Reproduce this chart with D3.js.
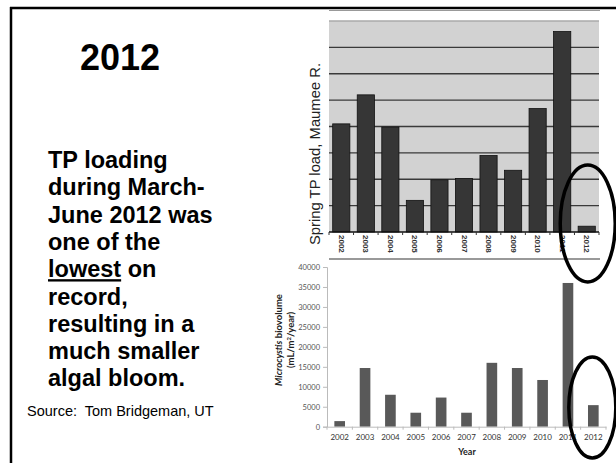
<!DOCTYPE html>
<html>
<head>
<meta charset="utf-8">
<script src="https://cdnjs.cloudflare.com/ajax/libs/d3/7.8.5/d3.min.js"></script>
<style>
  html, body { margin: 0; padding: 0; background: #fff; }
  svg { display: block; }
</style>
</head>
<body>
<div id="slide"></div>
<script>
// data
var years = ["2002", "2003", "2004", "2005", "2006", "2007", "2008", "2009", "2010", "2011", "2012"];
// spring TP load (chart has no tick labels, values in gridline units)
var tpLoad = [4.1, 5.2, 3.98, 1.2, 1.98, 2.03, 2.9, 2.34, 4.68, 7.6, 0.22];
var tpGrid = [1, 2, 3, 4, 5, 6, 7, 8];
// Microcystis biovolume (mL/m2/year)
var biovolume = [1400, 14700, 8000, 3500, 7300, 3500, 16000, 14700, 11700, 36000, 5400];
var bioTicks = [0, 5000, 10000, 15000, 20000, 25000, 30000, 35000, 40000];

var title = "2012";
var bodyLines = ["TP loading", "during March-", "June 2012 was", "one of the", "lowest| on", "record,", "resulting in a", "much smaller", "algal bloom."];
var source = "Source:  Tom Bridgeman, UT";

var width = 616, height = 463;

var svg = d3.select("#slide").append("svg")
    .attr("width", width)
    .attr("height", height);

// slide frame
svg.append("line").attr("x1", 10).attr("x2", width).attr("y1", 8).attr("y2", 8)
    .attr("stroke", "#000").attr("stroke-width", 2.5);
svg.append("line").attr("x1", 11).attr("x2", 11).attr("y1", 7).attr("y2", height)
    .attr("stroke", "#000").attr("stroke-width", 2.5);

// left side text
svg.append("text")
    .attr("x", 120).attr("y", 70)
    .attr("text-anchor", "middle")
    .style("font-family", "Liberation Sans, Arial, sans-serif")
    .style("font-weight", "bold")
    .style("font-size", "36px")
    .text(title);

var body = svg.append("text")
    .style("font-family", "Liberation Sans, Arial, sans-serif")
    .style("font-weight", "bold")
    .style("font-size", "23.5px");

bodyLines.forEach(function(l, i) {
    var t = body.append("tspan").attr("x", 48).attr("y", 168 + i * 27.3);
    if (l.indexOf("|") > -1) {
        var parts = l.split("|");
        t.append("tspan").style("text-decoration", "underline").text(parts[0]);
        t.append("tspan").text(parts[1]);
    } else {
        t.text(l);
    }
});

svg.append("text")
    .attr("x", 27).attr("y", 416)
    .style("font-family", "Liberation Sans, Arial, sans-serif")
    .style("font-size", "14.5px")
    .style("white-space", "pre")
    .text(source);

// ---- top chart: spring TP load ----

var x1 = d3.scaleBand()
    .domain(years)
    .range([329, 599])
    .paddingInner(0.3)
    .paddingOuter(0.15);

var y1 = d3.scaleLinear()
    .domain([0, 8])
    .range([232, 21]);

var topG = svg.append("g");

// picture frame lines
topG.append("line").attr("x1", 329).attr("x2", 600).attr("y1", 10.5).attr("y2", 10.5)
    .attr("stroke", "#999").attr("stroke-width", 1);
topG.append("line").attr("x1", 329).attr("x2", 600).attr("y1", 259).attr("y2", 259)
    .attr("stroke", "#777").attr("stroke-width", 1.5);

topG.append("rect")
    .attr("x", 329).attr("y", y1(8))
    .attr("width", 270).attr("height", y1(0) - y1(8))
    .attr("fill", "#d2d2d2");

topG.selectAll(".grid")
    .data(tpGrid).enter()
    .append("line")
    .attr("class", "grid")
    .attr("x1", 329).attr("x2", 599)
    .attr("y1", function(d) { return y1(d); })
    .attr("y2", function(d) { return y1(d); })
    .attr("stroke", function(d) { return d == 8 ? "#aaa" : "#3a3a3a"; })
    .attr("stroke-width", 1.3);

topG.selectAll(".bar")
    .data(tpLoad).enter()
    .append("rect")
    .attr("class", "bar")
    .attr("x", function(d, i) { return x1(years[i]); })
    .attr("y", function(d) { return y1(d); })
    .attr("width", x1.bandwidth())
    .attr("height", function(d) { return y1(0) - y1(d); })
    .attr("fill", "#363636")
    .attr("stroke", "#111")
    .attr("stroke-width", 0.8);

// baseline + ticks between categories
topG.append("line").attr("x1", 329).attr("x2", 599).attr("y1", y1(0)).attr("y2", y1(0))
    .attr("stroke", "#111").attr("stroke-width", 1.5);

topG.selectAll(".tick-b")
    .data(years.concat(["end"])).enter()
    .append("line")
    .attr("class", "tick-b")
    .attr("x1", function(d, i) { return 329 + i * x1.step(); })
    .attr("x2", function(d, i) { return 329 + i * x1.step(); })
    .attr("y1", y1(0)).attr("y2", y1(0) + 3)
    .attr("stroke", "#333").attr("stroke-width", 1);

topG.selectAll(".xl")
    .data(years).enter()
    .append("text")
    .attr("class", "xl")
    .attr("transform", function(d) {
        return "translate(" + (x1(d) + x1.bandwidth() / 2 - 2.5) + "," + (y1(0) + 3) + ") rotate(90)";
    })
    .style("font-family", "Liberation Sans, Arial, sans-serif")
    .style("font-size", "8px")
    .style("font-weight", "bold")
    .attr("fill", "#333")
    .text(function(d) { return d; });

svg.append("text")
    .attr("transform", "translate(320,154) rotate(-90)")
    .attr("text-anchor", "middle")
    .style("font-family", "Liberation Sans, Arial, sans-serif")
    .style("font-size", "14.8px")
    .attr("fill", "#222")
    .text("Spring TP load, Maumee R.");

// ---- bottom chart: Microcystis biovolume ----

var x2 = d3.scaleBand()
    .domain(years)
    .range([327, 606])
    .paddingInner(0.58)
    .paddingOuter(0.29);

var y2 = d3.scaleLinear()
    .domain([0, 40000])
    .range([426.7, 267]);

var bot = svg.append("g");

bot.selectAll(".bar2")
    .data(biovolume).enter()
    .append("rect")
    .attr("class", "bar2")
    .attr("x", function(d, i) { return x2(years[i]); })
    .attr("y", function(d) { return y2(d); })
    .attr("width", x2.bandwidth())
    .attr("height", function(d) { return y2(0) - y2(d); })
    .attr("fill", "#595959");

var yAxis = bot.append("g")
    .attr("transform", "translate(327,0)")
    .call(d3.axisLeft(y2).tickValues(bioTicks).tickSize(4).tickPadding(3).tickFormat(d3.format("d")));
yAxis.select(".domain").attr("stroke", "#bbb");
yAxis.selectAll(".tick line").attr("stroke", "#bbb");
yAxis.selectAll("text")
    .style("font-family", "Lato, sans-serif")
    .style("font-size", "7.5px")
    .attr("fill", "#555");

var xAxis = bot.append("g")
    .attr("transform", "translate(0," + y2(0) + ")")
    .call(d3.axisBottom(x2).tickSize(0).tickPadding(8));
xAxis.select(".domain").attr("stroke", "#bbb");
xAxis.selectAll("text")
    .style("font-family", "Lato, sans-serif")
    .style("font-size", "8px")
    .attr("fill", "#333");

bot.selectAll(".tick2")
    .data(years.concat(["end"])).enter()
    .append("line")
    .attr("class", "tick2")
    .attr("x1", function(d, i) { return 327 + i * x2.step(); })
    .attr("x2", function(d, i) { return 327 + i * x2.step(); })
    .attr("y1", y2(0)).attr("y2", y2(0) + 3)
    .attr("stroke", "#bbb");

bot.append("text")
    .attr("x", 467).attr("y", 455)
    .attr("text-anchor", "middle")
    .style("font-family", "Lato, sans-serif")
    .style("font-weight", "bold")
    .style("font-size", "9px")
    .attr("fill", "#222")
    .text("Year");

var ytitle = bot.append("text")
    .attr("transform", "translate(282,340) rotate(-90)")
    .attr("text-anchor", "middle")
    .style("font-family", "Lato, sans-serif")
    .style("font-weight", "bold")
    .style("font-size", "9.5px")
    .attr("fill", "#222");
ytitle.append("tspan").attr("x", 0).attr("dy", 0)
    .style("font-style", "italic").text("Microcystis");
ytitle.append("tspan").text(" biovolume");
ytitle.append("tspan").attr("x", 0).attr("dy", 11.5).text("(mL/m");
ytitle.append("tspan").attr("dy", -3).style("font-size", "6px").text("2");
ytitle.append("tspan").attr("dy", 3).text("/year)");

// circles drawn around the 2012 bars
var last = years[years.length - 1];
svg.append("ellipse")
    .attr("cx", x1(last) + x1.bandwidth() / 2 + 1)
    .attr("cy", 223.5)
    .attr("rx", 27.5).attr("ry", 58.5)
    .attr("fill", "none").attr("stroke", "#000").attr("stroke-width", 3.5);
svg.append("ellipse")
    .attr("cx", x2(last) + x2.bandwidth() / 2 - 1)
    .attr("cy", 407.5)
    .attr("rx", 23.5).attr("ry", 50.5)
    .attr("fill", "none").attr("stroke", "#000").attr("stroke-width", 3.5);
</script>
</body>
</html>
